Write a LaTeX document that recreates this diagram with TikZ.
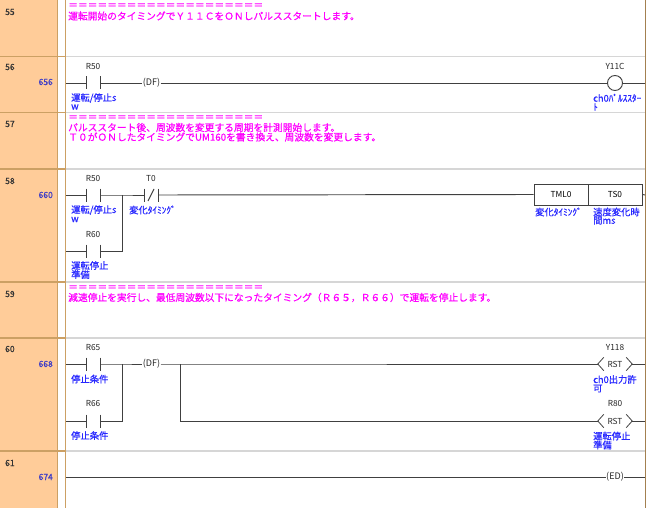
\documentclass[tikz,border=0pt]{standalone}
\usepackage{fontspec}
\newfontfamily\jp{Noto Sans CJK JP}
\newfontfamily\jpb[FakeBold=0.6]{Noto Sans CJK JP}
\definecolor{peach}{RGB}{255,204,153}
\definecolor{tan}{RGB}{204,160,100}
\definecolor{sepgray}{RGB}{214,214,214}
\definecolor{cmtmag}{RGB}{255,0,255}
\definecolor{lblblue}{RGB}{40,40,255}
\definecolor{numblue}{RGB}{60,60,200}
\definecolor{rungcol}{RGB}{64,64,64}
\tikzset{
  rung/.style={draw=rungcol,line width=0.95pt},
  cmt/.style={font=\jpb\fontsize{9.75}{9.75}\selectfont,text=cmtmag,anchor=west,inner sep=0pt},
  lbl/.style={font=\jpb\fontsize{9.3}{9.3}\selectfont,text=lblblue,anchor=west,inner sep=0pt},
  dev/.style={font=\jp\fontsize{8.3}{8.3}\selectfont,text=black!85,inner sep=0pt},
  rownum/.style={font=\jpb\fontsize{8.5}{8.5}\selectfont,text=black!80,anchor=west,inner sep=0pt},
  stepnum/.style={font=\jpb\fontsize{8.5}{8.5}\selectfont,text=numblue,anchor=east,inner sep=0pt},
  contact/.style={minimum width=14pt,minimum height=13pt,inner sep=0pt,outer sep=0pt,
    append after command={(\tikzlastnode.north west) edge[rung] (\tikzlastnode.south west)
                          (\tikzlastnode.north east) edge[rung] (\tikzlastnode.south east)}},
  instr/.style={font=\jp\fontsize{9}{9}\selectfont,text=black!85,inner sep=0.3pt},
  coil/.style={circle,draw=rungcol,line width=0.95pt,minimum size=15pt,inner sep=0pt},
  fbox/.style={draw=rungcol,line width=0.9pt,minimum height=21pt,inner sep=0pt,font=\jp\fontsize{8.3}{8.3}\selectfont},
  rstbox/.style={minimum width=34pt,minimum height=13pt,inner sep=0pt,font=\jp\fontsize{8.3}{8.3}\selectfont,text=black!85}
}
\begin{document}
\begin{tikzpicture}[x=1pt,y=-1pt]
\useasboundingbox (0,0) rectangle (650,508);
% background columns
\fill[peach] (0,0) rectangle (57.5,508);
\fill[white] (57.5,0) rectangle (66,508);
% row separators
\foreach \yy in {56.5,112.5,169,282,338,451}{
  \draw[tan,line width=1.2pt] (0,\yy) -- (66,\yy);
  \draw[sepgray,line width=1.8pt] (66,\yy) -- (645,\yy);
}
\draw[tan,line width=1.2pt] (57.5,0) -- (57.5,508);
\draw[tan,line width=1.2pt] (65.5,0) -- (65.5,508);
\draw[tan!80!black,line width=1.4pt] (645.5,0) -- (645.5,508);

% ---------- row numbers ----------
\node[rownum] (n55) at (5,12) {55};
\node[rownum] (n56) at (5,67) {56};
\node[stepnum] (s56) at (53,82) {656};
\node[rownum] (n57) at (5,124) {57};
\node[rownum] (n58) at (5,181) {58};
\node[stepnum] (s58) at (53,195) {660};
\node[rownum] (n59) at (5,294) {59};
\node[rownum] (n60) at (5,349) {60};
\node[stepnum] (s60) at (53,364) {668};
\node[rownum] (n61) at (5,463) {61};
\node[stepnum] (s61) at (53,477) {674};

% ---------- comments ----------
\node[cmt] (c55a) at (68,6) {＝＝＝＝＝＝＝＝＝＝＝＝＝＝＝＝＝＝＝＝};
\node[cmt] (c55b) at (68,16) {運転開始のタイミングでＹ１１ＣをＯＮしパルススタートします。};
\node[cmt] (c57a) at (68,118) {＝＝＝＝＝＝＝＝＝＝＝＝＝＝＝＝＝＝＝＝};
\node[cmt] (c57b) at (68,127.5) {パルススタート後、周波数を変更する周期を計測開始します。};
\node[cmt] (c57c) at (68,137) {Ｔ０がＯＮしたタイミングでUM160を書き換え、周波数を変更します。};
\node[cmt] (c59a) at (68,288) {＝＝＝＝＝＝＝＝＝＝＝＝＝＝＝＝＝＝＝＝};
\node[cmt] (c59b) at (68,297.5) {減速停止を実行し、最低周波数以下になったタイミング（Ｒ６５，Ｒ６６）で運転を停止します。};

% ---------- rung 56 ----------
\coordinate (l56) at (66,83);
\coordinate (r56) at (645,83);
\node[contact] (r50a) at (93,83) {};
\node[dev] (r50al) at (93,66.5) {R50};
\node[lbl] (r50ad) at (71,98) {運転/停止s};
\node[lbl] (r50ae) at (71,107) {w};
\node[instr] (df56) at (151.5,83) {(DF)};
\node[coil] (y11c) at (615,83) {};
\node[dev] (y11cl) at (615,66.5) {Y11C};
\node[lbl] (y11cd) at (593,98) {ch0ﾊﾟﾙｽｽﾀｰ};
\node[lbl] (y11ce) at (593,107) {ﾄ};
\draw[rung] (l56) -- (r50a.west);
\draw[rung] (r50a.east) -- (df56.west);
\draw[rung] (df56.east) -- (y11c.west);
\draw[rung] (y11c.east) -- (r56);

% ---------- rung 58 ----------
\coordinate (l58a) at (66,195);
\coordinate (l58b) at (66,251);
\coordinate (j58) at (122,195);
\coordinate (j58b) at (122,251);
\coordinate (r58) at (645,195);
\node[contact] (r50b) at (93,195) {};
\node[dev] (r50bl) at (93,179) {R50};
\node[lbl] (r50bd) at (71,210) {運転/停止s};
\node[lbl] (r50be) at (71,219.5) {w};
\node[contact] (r60) at (93,251) {};
\node[dev] (r60l) at (93,235) {R60};
\node[lbl] (r60d) at (71,265.5) {運転停止};
\node[lbl] (r60e) at (71,274.5) {準備};
\node[contact] (t0) at (151,195) {};
\draw[rung] ([shift={(-3pt,-6pt)}]t0.center) -- ([shift={(3pt,6pt)}]t0.center);
\node[dev] (t0l) at (151,179) {T0};
\node[lbl] (t0d) at (129,210) {変化ﾀｲﾐﾝｸﾞ};
\node[fbox,minimum width=54pt] (tml) at (561,194.5) {TML0};
\node[fbox,minimum width=54pt] (ts0) at (615,194.5) {TS0};
\node[lbl] (tmld) at (535,212) {変化ﾀｲﾐﾝｸﾞ};
\node[lbl] (ts0d) at (593,212) {速度変化時};
\node[lbl] (ts0e) at (593,220.5) {間ms};
\draw[rung] (l58a) -- (r50b.west);
\draw[rung] (r50b.east) -- (j58) -- (t0.west);
\draw[rung] (l58b) -- (r60.west);
\draw[rung] (r60.east) -- (j58b) -- (j58);
\draw[rung] (t0.east) -- (tml.west);
\draw[rung] (ts0.east) -- (r58);

% ---------- rung 60 ----------
\coordinate (l60a) at (66,364);
\coordinate (l60b) at (66,421);
\coordinate (j60) at (122,364);
\coordinate (j60b) at (122,421);
\coordinate (k60) at (180,364);
\coordinate (k60b) at (180,421);
\coordinate (r60a) at (645,364);
\coordinate (r60b) at (645,421);
\node[contact] (r65) at (93,364) {};
\node[dev] (r65l) at (93,348) {R65};
\node[lbl] (r65d) at (71,379) {停止条件};
\node[contact] (r66) at (93,421) {};
\node[dev] (r66l) at (93,404) {R66};
\node[lbl] (r66d) at (71,435.5) {停止条件};
\node[instr] (df60) at (151.5,364) {(DF)};
\node[rstbox] (rst1) at (615,364) {RST};
\draw[rung,line width=0.8pt] ([xshift=6pt]rst1.north west) -- (rst1.west) -- ([xshift=6pt]rst1.south west);
\draw[rung,line width=0.8pt] ([xshift=-6pt]rst1.north east) -- (rst1.east) -- ([xshift=-6pt]rst1.south east);
\node[dev] (y118l) at (615,347.5) {Y118};
\node[lbl] (y118d) at (593,379.5) {ch0出力許};
\node[lbl] (y118e) at (593,388.5) {可};
\node[rstbox] (rst2) at (615,421) {RST};
\draw[rung,line width=0.8pt] ([xshift=6pt]rst2.north west) -- (rst2.west) -- ([xshift=6pt]rst2.south west);
\draw[rung,line width=0.8pt] ([xshift=-6pt]rst2.north east) -- (rst2.east) -- ([xshift=-6pt]rst2.south east);
\node[dev] (r80l) at (615,404) {R80};
\node[lbl] (r80d) at (593,436) {運転停止};
\node[lbl] (r80e) at (593,445) {準備};
\draw[rung] (l60a) -- (r65.west);
\draw[rung] (r65.east) -- (j60) -- (df60.west);
\draw[rung] (l60b) -- (r66.west);
\draw[rung] (r66.east) -- (j60b) -- (j60);
\draw[rung] (df60.east) -- (k60) -- (rst1.west);
\draw[rung] (k60) -- (k60b) -- (rst2.west);
\draw[rung] (rst1.east) -- (r60a);
\draw[rung] (rst2.east) -- (r60b);

% ---------- rung 61 ----------
\coordinate (l61) at (66,477);
\coordinate (r61) at (645,477);
\node[instr] (ed) at (615,477) {(ED)};
\draw[rung] (l61) -- (ed.west);
\draw[rung] (ed.east) -- (r61);
\end{tikzpicture}
\end{document}
